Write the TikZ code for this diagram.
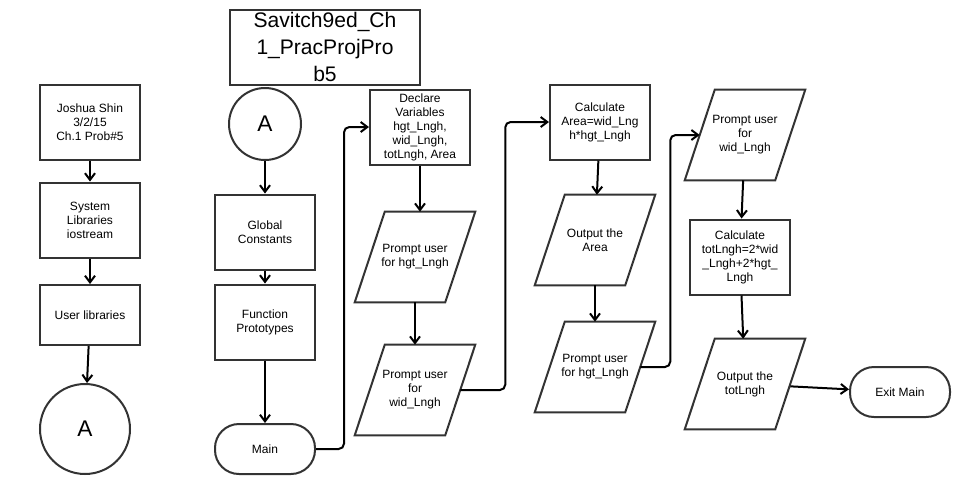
\documentclass[tikz,border=0pt]{standalone}
\usepackage{fontspec}
\setmainfont{Liberation Sans}
\usepackage{xcolor}
\usetikzlibrary{arrows.meta,positioning}
\definecolor{edgegray}{RGB}{51,51,51}

\begin{document}
\begin{tikzpicture}[x=0.75pt, y=-0.75pt,
    box/.style={draw=edgegray, line width=1.5pt, minimum width=75pt, minimum height=56.25pt, align=center, inner sep=1pt, font=\fontsize{9}{10.5}\selectfont},
    io/.style={minimum width=67.5pt, minimum height=67.5pt, align=center, inner sep=0pt, font=\fontsize{9}{10.5}\selectfont},
    ioline/.style={draw=edgegray, line width=1.5pt, line join=miter},
    term/.style={draw=edgegray, line width=1.5pt, rounded corners=18pt, minimum width=75pt, minimum height=37.5pt, align=center, font=\fontsize{9}{10.5}\selectfont},
    conn/.style={circle, draw=edgegray, line width=1.5pt, inner sep=0pt, font=\fontsize{17}{20}\selectfont},
    titlebox/.style={draw=edgegray, line width=1.5pt, minimum width=142.5pt, minimum height=56.25pt, inner sep=0pt, align=center, font=\fontsize{15.8}{20}\selectfont},
    arrow/.style={-{Straight Barb[length=5pt, width=7.5pt]}, line width=1.5pt, black}
]
\fill[white] (0,0) rectangle (976,494);
\useasboundingbox (0,0) rectangle (976,494);

% header column
\node[box] (author) at (90,122) {Joshua Shin\\3/2/15\\Ch.1 Prob\#5};
\node[box] (syslib) at (90,220) {System\\Libraries\\iostream};
\node[box, minimum height=45pt] (usrlib) at (90,315) {User libraries};
\node[conn, minimum size=67.5pt] (offA) at (85,429) {A};

% setup column
\node[titlebox] (title) at (325,47) {Savitch9ed\_Ch\\1\_PracProjPro\\b5};
\node[conn, minimum size=54pt] (onA) at (265,124) {A};
\node[box] (globals) at (265,232) {Global\\Constants};
\node[box] (protos) at (265,322) {Function\\Prototypes};
\node[term] (main) at (265,449) {Main};

% input
\node[box] (declare) at (420,127) {Declare\\Variables\\hgt\_Lngh,\\wid\_Lngh,\\totLngh, Area};
\node[io] (askhgt) at (415,257) {Prompt user\\for hgt\_Lngh};
\node[io] (askwid) at (415,390) {Prompt user\\for\\wid\_Lngh};

% area
\node[box] (calcarea) at (600,122) {Calculate\\Area=wid\_Lng\\h*hgt\_Lngh};
\node[io] (showarea) at (595,240) {Output the\\Area};
\node[io] (askhgt2) at (595,367) {Prompt user\\for hgt\_Lngh};

% perimeter
\node[io] (askwid2) at (745,135) {Prompt user\\for\\wid\_Lngh};
\node[box] (calctot) at (740,257) {Calculate\\totLngh=2*wid\\\_Lngh+2*hgt\_\\Lngh};
\node[io] (showtot) at (745,384) {Output the\\totLngh};
\node[term] (exit) at (900,392) {Exit Main};

% slanted outlines of the input/output nodes
\foreach \n in {askhgt,askwid,showarea,askhgt2,askwid2,showtot}
  \draw[ioline] ([xshift=-11.25pt]\n.south west) -- ([xshift=11.25pt]\n.north west)
    -- ([xshift=11.25pt]\n.north east) -- ([xshift=-11.25pt]\n.south east) -- cycle;

\draw[arrow] (author) -- (syslib);
\draw[arrow] (syslib) -- (usrlib);
\draw[arrow] (usrlib) -- (offA);
\draw[arrow] (onA) -- (globals);
\draw[arrow] (globals) -- (protos);
\draw[arrow] (protos) -- (main);
\draw[arrow, rounded corners=4pt] (main.east) -- ++(28,0) |- (declare.west);
\draw[arrow] (declare.south) -- (declare.south |- askhgt.north);
\draw[arrow] (askhgt) -- (askwid);
\draw[arrow, rounded corners=4pt] (askwid.east) -- ++(45,0) |- (calcarea.west);
\draw[arrow] (calcarea) -- (showarea);
\draw[arrow] (showarea) -- (askhgt2);
\draw[arrow, rounded corners=4pt] (askhgt2.east) -- ++(30,0) |- (askwid2.west);
\draw[arrow] (askwid2) -- (calctot);
\draw[arrow] (calctot) -- (showtot);
\draw[arrow] (showtot) -- (exit);
\end{tikzpicture}
\end{document}
